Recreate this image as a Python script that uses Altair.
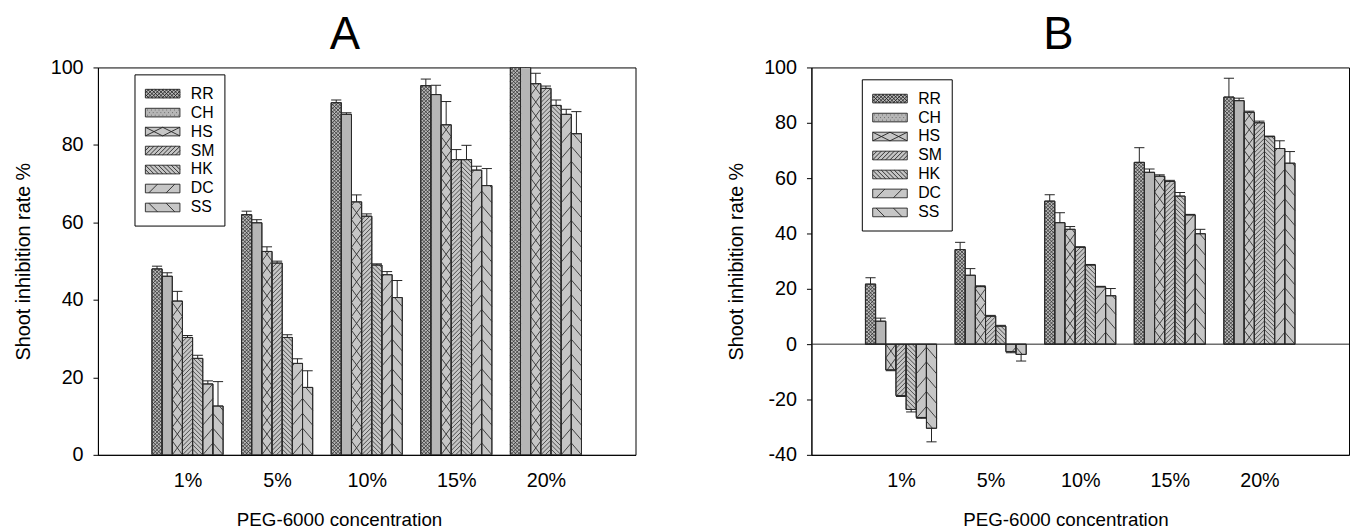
import math
import altair as alt
import pandas as pd

series = ["RR", "CH", "HS", "SM", "HK", "DC", "SS"]
conc = ["1%", "5%", "10%", "15%", "20%"]

# Panel A values (per series, across concentrations)
a_vals = {
    "RR": [48.0, 62.0, 90.9, 95.3, 100.0],
    "CH": [46.1, 59.9, 87.9, 93.0, 100.0],
    "HS": [39.7, 52.5, 65.3, 85.2, 95.8],
    "SM": [30.3, 49.5, 61.6, 76.2, 94.6],
    "HK": [24.9, 30.3, 49.0, 76.2, 90.2],
    "DC": [18.3, 23.6, 46.5, 73.5, 87.9],
    "SS": [12.6, 17.4, 40.6, 69.5, 82.9],
}
a_errs = {
    "RR": [0.7, 0.9, 0.7, 1.7, 1.0],
    "CH": [0.9, 0.8, 0.4, 2.4, 1.0],
    "HS": [2.5, 1.2, 1.8, 6.0, 2.7],
    "SM": [0.5, 0.5, 0.6, 2.6, 0.6],
    "HK": [0.8, 0.7, 0.3, 3.7, 1.4],
    "DC": [0.8, 1.2, 0.8, 1.0, 1.3],
    "SS": [6.3, 4.3, 4.4, 4.4, 5.7],
}
# Panel B values
b_vals = {
    "RR": [21.7, 34.2, 51.7, 65.7, 89.3],
    "CH": [8.3, 24.9, 43.9, 62.1, 88.0],
    "HS": [-9.3, 20.8, 41.5, 60.7, 83.8],
    "SM": [-18.6, 10.1, 35.0, 58.8, 80.0],
    "HK": [-23.6, 6.5, 28.6, 53.5, 75.0],
    "DC": [-26.5, -2.7, 20.7, 46.7, 70.7],
    "SS": [-30.4, -3.7, 17.5, 39.9, 65.4],
}
b_errs = {
    "RR": [2.3, 2.6, 2.3, 5.3, 6.8],
    "CH": [1.1, 2.4, 3.6, 1.2, 0.9],
    "HS": [0.3, 0.3, 1.0, 0.5, 0.4],
    "SM": [0.3, 0.3, 0.2, 0.4, 0.6],
    "HK": [0.9, 0.3, 0.2, 1.3, 0.2],
    "DC": [0.3, 0.4, 0.2, 0.2, 2.8],
    "SS": [4.9, 2.4, 2.6, 1.6, 4.2],
}

FONT = "Liberation Sans"
base_fill = ["#b8b8b8", "#b6b6b6", "#c6c6c6", "#c6c6c6", "#c6c6c6", "#c6c6c6", "#c6c6c6"]
line_color = ["#222222"] * len(series)

# ---- layout of the grouped bars on a numeric x axis (groups at 1..5) ----
GROUP_W = 0.794
BAR_W = GROUP_W / len(series)
PLOT_W, PLOT_H = 544, 392
X_DOM = [0, 6]
PX_X = PLOT_W / (X_DOM[1] - X_DOM[0])
BAR_PX = BAR_W * PX_X

# hatch specs: (direction, rise in px across one bar width, vertical period in px, stroke width)
hatch_spec = {
    "RR": [(1, BAR_PX, 3.6, 0.8), (-1, BAR_PX, 3.6, 0.8)],
    "CH": [],
    "HS": [(1, 14, 14, 0.9), (-1, 14, 14, 0.9)],
    "SM": [(1, BAR_PX, 4.4, 0.8)],
    "HK": [(-1, BAR_PX, 4.4, 0.8)],
    "DC": [(1, 12, 15, 0.9)],
    "SS": [(-1, 12, 15, 0.9)],
}


def rect_path_hatch(spec_name):
    """Legend swatch path (x in -2..2, y in -0.5..0.5) with the series' hatch."""
    p = "M-2,-0.5L2,-0.5L2,0.5L-2,0.5Z"

    def clip_line(x1, y1, x2, y2):
        if x1 > x2:
            x1, y1, x2, y2 = x2, y2, x1, y1
        if x2 < -2 or x1 > 2:
            return None

        def at(x):
            return y1 + (y2 - y1) * (x - x1) / (x2 - x1)
        nx1, nx2 = max(x1, -2), min(x2, 2)
        return (nx1, at(nx1), nx2, at(nx2))

    lines = []
    if spec_name in ("SM", "RR"):
        x = -3.0
        step = 0.42 if spec_name == "RR" else 0.5
        while x < 2:
            lines.append((x, 0.5, x + 1, -0.5))
            x += step
    if spec_name in ("HK", "RR"):
        x = -3.0
        step = 0.42 if spec_name == "RR" else 0.5
        while x < 2:
            lines.append((x, -0.5, x + 1, 0.5))
            x += step
    if spec_name == "HS":
        for x in (-2, 0):
            lines.append((x, 0.5, x + 2, -0.5))
            lines.append((x, -0.5, x + 2, 0.5))
    if spec_name == "DC":
        for x in (-1.6, 0.4):
            lines.append((x, 0.5, x + 1, -0.5))
    if spec_name == "SS":
        for x in (-1.6, 0.4):
            lines.append((x, -0.5, x + 1, 0.5))
    for l in lines:
        c = clip_line(*l)
        if c:
            p += "M%.3f,%.3fL%.3f,%.3f" % c
    if spec_name == "CH":
        for i in range(9):
            for j in range(3):
                xx = -1.8 + i * 0.45 + (0.22 if j % 2 else 0)
                yy = -0.3 + j * 0.3
                if xx < 1.85:
                    p += "M%.2f,%.2fL%.2f,%.2f" % (xx, yy, xx + 0.06, yy)
    return p


legend_paths = [rect_path_hatch(s) for s in series]


def make_df(vals, errs):
    rows = []
    for si, s in enumerate(series):
        for gi, c in enumerate(conc):
            v = vals[s][gi]
            e = errs[s][gi]
            cap = v + e if v >= 0 else v - e
            xl = (gi + 1) - GROUP_W / 2 + si * BAR_W
            rows.append({"series": s, "conc": c, "value": v, "cap": cap,
                         "xl": xl, "xr": xl + BAR_W, "xc": xl + BAR_W / 2})
    return pd.DataFrame(rows)


def make_hatch(df, py):
    out = []
    for r in df.itertuples():
        lo, hi = (0.0, r.value) if r.value >= 0 else (r.value, 0.0)
        for direction, rise_px, period_px, sw in hatch_spec[r.series]:
            rise = rise_px / py
            period = period_px / py
            y0 = math.floor((lo - rise) / period) * period
            while y0 < hi:
                t0 = max(0.0, (lo - y0) / rise)
                t1 = min(1.0, (hi - y0) / rise)
                if t1 > t0 + 1e-9:
                    if direction > 0:
                        xa = r.xl + t0 * (r.xr - r.xl)
                        xb = r.xl + t1 * (r.xr - r.xl)
                    else:
                        xa = r.xr - t0 * (r.xr - r.xl)
                        xb = r.xr - t1 * (r.xr - r.xl)
                    out.append({"hx1": xa, "hy1": y0 + t0 * rise, "hx2": xb,
                                "hy2": y0 + t1 * rise, "sw": sw})
                y0 += period
    return pd.DataFrame(out)


def panel(df, ydom, yvals, lx, ly, title, title_x):
    py = PLOT_H / (ydom[1] - ydom[0])
    hdf = make_hatch(df, py)
    base = alt.Chart(df)
    xscale = alt.Scale(domain=X_DOM, nice=False, zero=False)
    xaxis = alt.Axis(
        title="PEG-6000 concentration",
        values=[1, 2, 3, 4, 5],
        labelExpr="['','1%','5%','10%','15%','20%'][datum.value]",
        labelAngle=0,
        ticks=False,
        labelPadding=16,
        titlePadding=21,
        titleX=title_x,
    )
    yscale = alt.Scale(domain=ydom, nice=False, zero=False)
    yaxis = alt.Axis(values=yvals, title="Shoot inhibition rate %", titlePadding=17,
                     labelExpr="'' + datum.value")
    leg = dict(
        orient="none",
        legendX=lx,
        legendY=ly,
        title=None,
        direction="vertical",
        symbolSize=306.25,
        symbolOffset=9,
        symbolStrokeColor="#222222",
        symbolStrokeWidth=0.9,
        symbolOpacity=1,
        labelFont=FONT,
        labelFontSize=16,
        labelColor="black",
        labelOffset=19,
        strokeColor="black",
        fillColor="white",
        padding=10,
        rowPadding=1.2,
    )

    bars = base.mark_bar(stroke="#2a2a2a", strokeWidth=1, clip=True).encode(
        x=alt.X("xl:Q", scale=xscale, axis=xaxis),
        x2="xr:Q",
        y=alt.Y("value:Q", scale=yscale, axis=yaxis),
        y2=alt.datum(0),
        fill=alt.Fill("series:N", sort=series,
                      scale=alt.Scale(domain=series, range=base_fill),
                      legend=alt.Legend(**leg)),
    )
    shape_layer = base.mark_point(filled=True, opacity=0, strokeWidth=0.9).encode(
        x=alt.X("xc:Q", scale=xscale, axis=xaxis),
        y=alt.Y("value:Q", scale=yscale, axis=yaxis),
        shape=alt.Shape("series:N", sort=series,
                        scale=alt.Scale(domain=series, range=legend_paths),
                        legend=alt.Legend(**leg)),
        stroke=alt.Stroke("series:N", sort=series,
                          scale=alt.Scale(domain=series, range=line_color),
                          legend=alt.Legend(**leg)),
    )
    hatch = alt.Chart(hdf).mark_rule(color="#303030", clip=True).encode(
        x=alt.X("hx1:Q", scale=xscale, axis=xaxis),
        x2="hx2:Q",
        y=alt.Y("hy1:Q", scale=yscale, axis=yaxis),
        y2="hy2:Q",
        strokeWidth=alt.StrokeWidth("sw:Q", scale=None),
    )
    outline = base.mark_bar(fillOpacity=0, stroke="#2a2a2a", strokeWidth=1, clip=True).encode(
        x=alt.X("xl:Q", scale=xscale, axis=xaxis),
        x2="xr:Q",
        y=alt.Y("value:Q", scale=yscale, axis=yaxis),
        y2=alt.datum(0),
    )
    err = base.mark_rule(color="#222222", strokeWidth=1, clip=True).encode(
        x=alt.X("xc:Q", scale=xscale, axis=xaxis),
        y=alt.Y("value:Q", scale=yscale, axis=yaxis),
        y2="cap:Q",
    )
    caps = base.mark_rule(color="#222222", strokeWidth=1, clip=True).encode(
        x=alt.X("xl:Q", scale=xscale, axis=xaxis),
        x2="xr:Q",
        y=alt.Y("cap:Q", scale=yscale, axis=yaxis),
    )
    layers = [bars, hatch, outline, err, caps, shape_layer]
    if ydom[0] < 0:
        zero = alt.Chart(pd.DataFrame({"z": [0]})).mark_rule(color="#222222", strokeWidth=1).encode(
            y=alt.Y("z:Q", scale=yscale, axis=yaxis)
        )
        layers.append(zero)
    return alt.layer(*layers).properties(
        width=PLOT_W,
        height=PLOT_H,
        title=alt.TitleParams(
            title, fontSize=46, fontWeight="normal", font=FONT, dx=-22, offset=-1, color="black"
        ),
    )


dfa = make_df(a_vals, a_errs)
dfb = make_df(b_vals, b_errs)

pa = panel(dfa, [0, 100], [0, 20, 40, 60, 80, 100], 37, 7, "A", 244)
pb = panel(dfb, [-40, 100], [-40, -20, 0, 20, 40, 60, 80, 100], 51, 12, "B", 257)

chart = (
    alt.hconcat(pa, pb, spacing=91)
    .resolve_scale(fill="independent", shape="independent", stroke="independent",
                   y="independent", x="independent")
    .resolve_legend(fill="independent", shape="independent", stroke="independent")
    .properties(padding={"left": 5, "top": 0, "right": 0, "bottom": 5})
    .configure_view(stroke="black", strokeWidth=1)
    .configure_axis(
        grid=False,
        labelFont=FONT,
        titleFont=FONT,
        labelFontSize=20,
        titleFontSize=19,
        titleFontWeight="normal",
        labelColor="black",
        titleColor="black",
        domainColor="black",
        tickColor="black",
        tickSize=5,
    )
    .configure_axisY(labelPadding=10, titleFontSize=20)
)

chart.save("out.html", embed_options={"renderer": "svg", "actions": False})
